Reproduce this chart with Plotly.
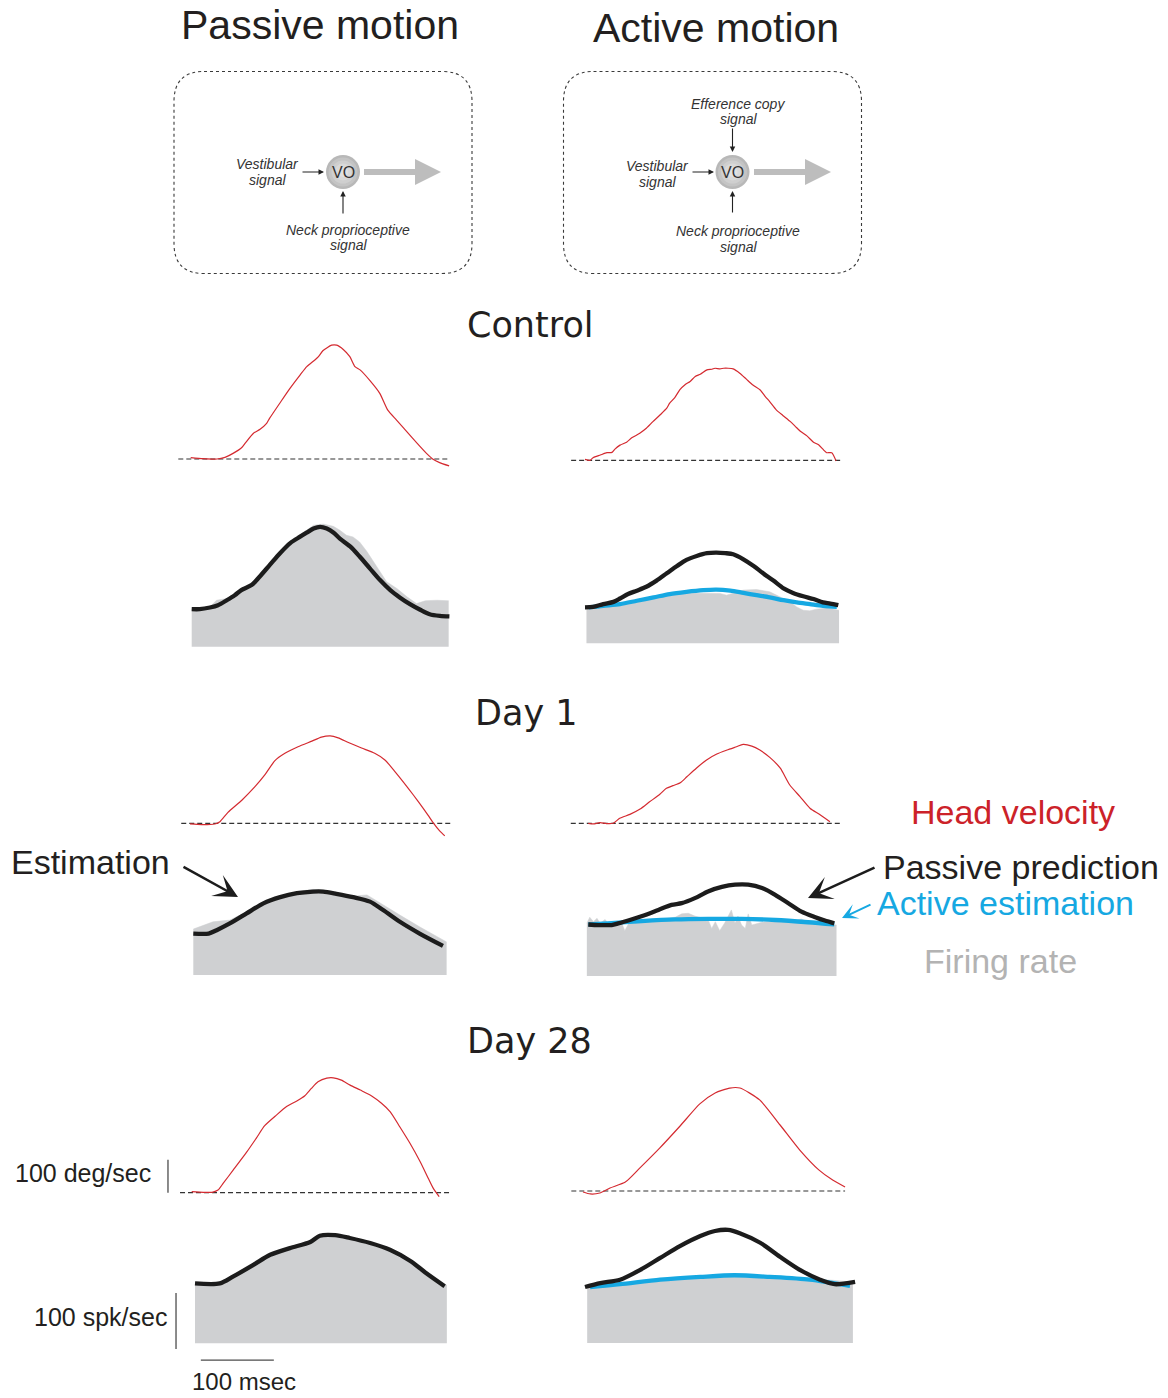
import plotly.graph_objects as go

# ---------------------------------------------------------------------------
# Recorded traces (time in ms from trace onset; head velocity in deg/s;
# firing rate in spk/s)
# ---------------------------------------------------------------------------

# Control - passive
ctrl_pas_vel_t = [0, 17, 36, 47, 58, 70, 75, 86, 95, 104, 108, 122, 136, 150, 159, 170, 175, 181, 193, 200,
                  209, 218, 225, 232, 245, 259, 270, 282, 296, 310, 323, 332, 341, 354]
ctrl_pas_vel = [4, 1, 0, 5, 17, 35, 49, 78, 90, 108, 123, 169, 214, 255, 280, 300, 310, 328, 345, 345,
                332, 310, 280, 270, 239, 199, 148, 118, 83, 48, 17, -1, -11, -21]
ctrl_pas_window = [-17, 355]
ctrl_pas_est_t = [0, 11, 25, 36, 48, 59, 68, 82, 93, 107, 121, 135, 148, 158, 167, 176, 185, 194, 203, 217,
                  230, 244, 258, 272, 285, 299, 313, 326, 340, 353]
ctrl_pas_est = [67, 67, 70, 74, 83, 92, 101, 110, 125, 146, 167, 185, 196, 204, 211, 214, 211, 204, 193, 179,
                161, 140, 119, 101, 88, 76, 66, 58, 55, 54]
ctrl_pas_fr_t = [0, 11, 25, 34, 48, 59, 68, 82, 93, 107, 121, 135, 148, 158, 167, 180, 194, 203, 212, 221,
                 230, 240, 253, 267, 281, 295, 308, 320, 336, 352]
ctrl_pas_fr = [67, 67, 71, 83, 86, 95, 102, 112, 128, 149, 170, 187, 199, 208, 217, 219, 215, 208, 199, 196,
               187, 170, 143, 116, 104, 89, 77, 82, 83, 82]

# Control - active
ctrl_act_vel_t = [0, 7, 11, 21, 30, 37, 41, 48, 57, 64, 75, 84, 93, 103, 112, 116, 123, 130, 137, 144,
                  151, 158, 167, 174, 178, 185, 190, 196, 203, 212, 221, 230, 240, 247, 253, 262, 271, 281,
                  288, 295, 304, 313, 320, 327, 331, 338, 344]
ctrl_act_vel = [3, 0, 8, 16, 23, 24, 34, 46, 55, 68, 82, 97, 117, 138, 158, 173, 190, 214, 229, 239,
                254, 261, 274, 276, 279, 277, 279, 279, 277, 264, 246, 228, 213, 193, 178, 153, 136, 118,
                103, 88, 74, 55, 47, 31, 23, 23, -2]
ctrl_act_window = [-19, 351]
ctrl_act_pred_t = [0, 11, 25, 39, 48, 59, 71, 84, 98, 112, 126, 139, 153, 167, 180, 192, 203, 217, 231, 244,
                   258, 272, 285, 299, 313, 326, 336, 347]
ctrl_act_pred = [64, 65, 70, 74, 80, 88, 94, 101, 112, 125, 138, 149, 156, 161, 162, 161, 159, 150, 138, 125,
                 112, 98, 90, 84, 79, 73, 71, 68]
ctrl_act_est_t = [5, 25, 48, 71, 94, 116, 139, 162, 180, 199, 217, 235, 253, 272, 290, 308, 326, 345]
ctrl_act_est = [64, 67, 70, 76, 82, 88, 92, 95, 96, 94, 90, 86, 82, 77, 73, 70, 67, 65]
ctrl_act_fr_t = [2, 25, 48, 71, 94, 116, 139, 171, 185, 194, 203, 217, 235, 253, 267, 281, 290, 299, 308, 317,
                 331, 348]
ctrl_act_fr = [63, 67, 71, 77, 83, 89, 90, 89, 89, 86, 89, 95, 96, 92, 83, 74, 65, 59, 58, 61, 63, 59]

# Day 1 - passive
d1_pas_vel_t = [0, 16, 34, 41, 52, 71, 89, 103, 116, 130, 148, 167, 180, 192, 203, 217, 235, 253, 267, 281,
                299, 313, 326, 333, 342, 349]
d1_pas_vel = [-2, -4, -2, 5, 33, 70, 111, 148, 189, 212, 232, 249, 261, 265, 259, 245, 228, 212, 192, 156,
              106, 65, 25, 2, -23, -38]
d1_pas_window = [-12, 358]
d1_pas_est_t = [0, 21, 32, 50, 73, 96, 119, 142, 164, 178, 196, 219, 242, 260, 283, 310, 342]
d1_pas_est = [74, 74, 80, 92, 110, 128, 139, 146, 149, 149, 145, 139, 131, 116, 95, 74, 52]
d1_pas_fr_t = [0, 14, 27, 50, 73, 96, 119, 142, 164, 178, 196, 219, 238, 256, 283, 310, 342, 347]
d1_pas_fr = [82, 89, 95, 98, 113, 131, 141, 149, 153, 151, 147, 141, 143, 128, 107, 86, 63, 59]

# Day 1 - active
d1_act_vel_t = [0, 7, 16, 25, 34, 43, 57, 71, 84, 98, 107, 116, 126, 135, 148, 162, 176, 190, 203, 212,
                224, 235, 249, 263, 276, 290, 304, 317, 331]
d1_act_vel = [0, -2, 2, -1, 0, 15, 27, 43, 65, 88, 106, 114, 123, 141, 167, 192, 210, 222, 232, 239,
              234, 222, 199, 167, 116, 81, 45, 27, 5]
d1_act_window = [-24, 346]
d1_act_pred_t = [0, 14, 32, 41, 59, 78, 96, 114, 128, 146, 164, 183, 201, 219, 238, 256, 274, 292, 311, 324, 337]
d1_act_pred = [92, 91, 91, 94, 101, 109, 118, 127, 130, 139, 151, 159, 163, 163, 157, 145, 130, 115, 105, 99, 94]
d1_act_est_t = [0, 27, 73, 119, 164, 210, 256, 301, 337]
d1_act_est = [92, 94, 98, 101, 102, 102, 100, 96, 92]
d1_act_fr_t = [-2, 2, 7, 12, 16, 23, 27, 37, 46, 50, 55, 73, 96, 119, 128, 137, 146, 164, 169, 174,
               180, 187, 196, 201, 205, 210, 215, 219, 224, 238, 256, 274, 292, 301, 320, 340]
d1_act_fr = [94, 105, 97, 103, 94, 101, 94, 91, 94, 81, 93, 96, 100, 105, 111, 112, 107, 101, 85, 97,
             81, 95, 118, 94, 107, 91, 85, 111, 91, 96, 98, 96, 102, 96, 94, 91]

# Day 28 - passive
d28_pas_vel_t = [0, 16, 29, 36, 43, 57, 75, 89, 100, 116, 130, 144, 155, 164, 173, 185, 194, 205, 217, 231,
                 246, 260, 272, 285, 299, 313, 324, 331, 339]
d28_pas_vel = [3, 1, 2, 8, 28, 69, 122, 167, 203, 235, 261, 278, 294, 316, 336, 347, 348, 341, 326, 311,
               294, 271, 245, 200, 150, 94, 44, 13, -12]
d28_pas_window = [-16, 354]
d28_pas_est_t = [0, 34, 52, 80, 103, 130, 158, 171, 192, 212, 240, 267, 295, 315, 342]
d28_pas_est = [107, 107, 119, 140, 158, 170, 181, 192, 193, 188, 179, 167, 147, 127, 102]
d28_pas_fr_t = [0, 34, 52, 80, 103, 130, 158, 171, 192, 212, 240, 267, 295, 315, 342, 345]
d28_pas_fr = [107, 107, 121, 143, 160, 172, 184, 193, 195, 190, 181, 169, 150, 130, 104, 104]

# Day 28 - active
d28_act_vel_t = [0, 10, 23, 37, 58, 78, 105, 133, 160, 181, 201, 215, 242, 270, 297, 323, 342, 359]
d28_act_vel = [-3, -9, -6, 9, 27, 70, 130, 197, 264, 297, 312, 312, 276, 200, 124, 64, 33, 12]
d28_act_window = [-16, 359]
d28_act_pred_t = [0, 21, 48, 75, 103, 130, 158, 178, 196, 212, 240, 267, 295, 322, 342, 370]
d28_act_pred = [100, 107, 113, 130, 152, 173, 191, 200, 202, 196, 179, 154, 130, 113, 105, 109]
d28_act_est_t = [7, 48, 103, 158, 205, 253, 308, 363]
d28_act_est = [100, 105, 113, 118, 121, 118, 113, 102]
d28_act_fr_t = [3, 48, 103, 158, 205, 253, 308, 330, 363, 367]
d28_act_fr = [100, 107, 113, 118, 121, 120, 114, 113, 109, 109]

# Scale bars
SCALE_VEL = 100   # deg/s
SCALE_FR = 100    # spk/s
SCALE_T = 100     # ms

# ---------------------------------------------------------------------------
# Page geometry and styling
# ---------------------------------------------------------------------------
W, H = 1168, 1398
MS_PX = 0.73      # px per ms
VEL_PX = 0.33     # px per deg/s
FR_PX = 0.56      # px per spk/s

RED = "#d42a30"
BLUE = "#16a8e2"
BLACK = "#1c1c1c"
GREY_FILL = "#cfd0d2"
TEXT = "#231f20"
SANS = "Liberation Sans, Arial, Helvetica, sans-serif"
TITLE_FONT = "DejaVu Sans, Verdana, sans-serif"

fig = go.Figure()
_axes = {"n": 0}


def panel(x0, y0, px_per_unit):
    """Create an invisible x/y axis pair whose origin (t=0, value=0) sits at page pixel (x0, y0)."""
    _axes["n"] += 1
    k = _axes["n"]
    sfx = "" if k == 1 else str(k)
    fig.update_layout(**{
        "xaxis" + sfx: dict(domain=[0, 1], range=[-x0 / MS_PX, (W - x0) / MS_PX], visible=False,
                            anchor="y" + sfx, fixedrange=True),
        "yaxis" + sfx: dict(domain=[0, 1], range=[(y0 - H) / px_per_unit, y0 / px_per_unit], visible=False,
                            anchor="x" + sfx, fixedrange=True),
    })
    return "x" + sfx, "y" + sfx


def velocity_panel(x0, y0, t, v, window):
    xa, ya = panel(x0, y0, VEL_PX)
    fig.add_trace(go.Scatter(x=window, y=[0, 0], mode="lines", xaxis=xa, yaxis=ya,
                             line=dict(color="#333333", width=1.2, dash="5px,3px"), hoverinfo="skip"))
    fig.add_trace(go.Scatter(x=t, y=v, mode="lines", xaxis=xa, yaxis=ya,
                             line=dict(color=RED, width=1.2, shape="spline", smoothing=0.6), hoverinfo="skip"))
    return xa, ya


def rate_panel(x0, y0, fr_t, fr, curves):
    xa, ya = panel(x0, y0, FR_PX)
    fig.add_trace(go.Scatter(x=fr_t, y=fr, mode="lines", fill="tozeroy", fillcolor=GREY_FILL,
                             line=dict(color=GREY_FILL, width=0.5), xaxis=xa, yaxis=ya, hoverinfo="skip"))
    for ct, cv, col in curves:
        fig.add_trace(go.Scatter(x=ct, y=cv, mode="lines", xaxis=xa, yaxis=ya,
                                 line=dict(color=col, width=4.3, shape="spline", smoothing=0.8),
                                 hoverinfo="skip"))
    return xa, ya


# Control
velocity_panel(190.7, 459.0, ctrl_pas_vel_t, ctrl_pas_vel, ctrl_pas_window)
velocity_panel(585.0, 460.3, ctrl_act_vel_t, ctrl_act_vel, ctrl_act_window)
rate_panel(191.7, 646.7, ctrl_pas_fr_t, ctrl_pas_fr, [(ctrl_pas_est_t, ctrl_pas_est, BLACK)])
rate_panel(585.0, 643.3, ctrl_act_fr_t, ctrl_act_fr,
           [(ctrl_act_est_t, ctrl_act_est, BLUE), (ctrl_act_pred_t, ctrl_act_pred, BLACK)])

# Day 1
velocity_panel(190.0, 823.3, d1_pas_vel_t, d1_pas_vel, d1_pas_window)
velocity_panel(588.3, 823.3, d1_act_vel_t, d1_act_vel, d1_act_window)
rate_panel(193.3, 975.0, d1_pas_fr_t, d1_pas_fr, [(d1_pas_est_t, d1_pas_est, BLACK)])
rate_panel(588.3, 976.0, d1_act_fr_t, d1_act_fr,
           [(d1_act_est_t, d1_act_est, BLUE), (d1_act_pred_t, d1_act_pred, BLACK)])

# Day 28
vx, vy = velocity_panel(191.7, 1192.7, d28_pas_vel_t, d28_pas_vel, d28_pas_window)
velocity_panel(583.0, 1191.0, d28_act_vel_t, d28_act_vel, d28_act_window)
fx, fy = rate_panel(195.0, 1343.3, d28_pas_fr_t, d28_pas_fr, [(d28_pas_est_t, d28_pas_est, BLACK)])
rate_panel(585.0, 1343.0, d28_act_fr_t, d28_act_fr,
           [(d28_act_est_t, d28_act_est, BLUE), (d28_act_pred_t, d28_act_pred, BLACK)])

# Scale bars, drawn in the units of the Day 28 passive panels
bar = dict(color="#4d4d4d", width=1.3)
fig.add_trace(go.Scatter(x=[-32.5, -32.5], y=[0, SCALE_VEL], mode="lines", xaxis=vx, yaxis=vy,
                         line=bar, hoverinfo="skip"))
fig.add_trace(go.Scatter(x=[-26, -26], y=[-10, -10 + SCALE_FR], mode="lines", xaxis=fx, yaxis=fy,
                         line=bar, hoverinfo="skip"))
fig.add_trace(go.Scatter(x=[8, 8 + SCALE_T], y=[-30, -30], mode="lines", xaxis=fx, yaxis=fy,
                         line=bar, hoverinfo="skip"))

# ---------------------------------------------------------------------------
# Text and schematic (page pixel coordinates converted to paper)
# ---------------------------------------------------------------------------


def px(x):
    return x / W


def py(y):
    return 1 - y / H


annotations = []


def label(x, y, text, size, color=TEXT, family=SANS, xanchor="center", yanchor="middle", italic=False):
    if italic:
        text = "<i>" + text + "</i>"
    annotations.append(dict(x=px(x), y=py(y), xref="paper", yref="paper", text=text, showarrow=False,
                            xanchor=xanchor, yanchor=yanchor,
                            font=dict(size=size, color=color, family=family)))


def arrow(tail, tip, color, width, size, head=3):
    annotations.append(dict(x=px(tip[0]), y=py(tip[1]), xref="paper", yref="paper", text="",
                            showarrow=True, ax=tail[0] - tip[0], ay=tail[1] - tip[1],
                            axref="pixel", ayref="pixel", arrowhead=head, arrowsize=size,
                            arrowwidth=width, arrowcolor=color, standoff=0, startstandoff=0))


label(320, 25, "Passive motion", 41)
label(716, 28, "Active motion", 41)
label(530, 325, "Control", 35, family=TITLE_FONT)
label(526, 713, "Day 1", 35, family=TITLE_FONT)
label(529, 1041, "Day 28", 35, family=TITLE_FONT)

label(1013, 812, "Head velocity", 34, color="#cc2229")
label(1021, 867, "Passive prediction", 34)
label(1005, 903, "Active estimation", 34, color=BLUE)
label(1000, 961, "Firing rate", 34, color="#b3b3b3")
label(90, 862, "Estimation", 34)

label(153, 1173, "100 deg/sec", 25, xanchor="right")
label(169, 1317, "100 spk/sec", 25, xanchor="right")
label(244, 1397, "100 msec", 24, yanchor="bottom")

arrow((182, 866), (238, 897), BLACK, 2.5, 1.6)
arrow((876, 867), (808, 898), BLACK, 2.5, 1.6)
arrow((872, 904), (842, 918), BLUE, 2.0, 1.3)

shapes = []


def rounded_box(x0, y0, x1, y1, r):
    pts = [
        ("M", x0 + r, y0), ("L", x1 - r, y0), ("Q", x1, y0, x1, y0 + r), ("L", x1, y1 - r),
        ("Q", x1, y1, x1 - r, y1), ("L", x0 + r, y1), ("Q", x0, y1, x0, y1 - r), ("L", x0, y0 + r),
        ("Q", x0, y0, x0 + r, y0),
    ]
    path = ""
    for p in pts:
        cmd, coords = p[0], p[1:]
        path += cmd + " " + " ".join(
            f"{px(coords[i]):.5f},{py(coords[i + 1]):.5f}" for i in range(0, len(coords), 2)) + " "
    path += "Z"
    shapes.append(dict(type="path", path=path, xref="paper", yref="paper",
                       line=dict(color="#3a3a3a", width=1.1, dash="dot")))


def node(cx, cy):
    for r, c in [(17, "#b8b8b8"), (14.5, "#c4c4c4"), (11.5, "#cfcfcf"), (8.5, "#d9d9d9"), (5, "#e1e1e1")]:
        shapes.append(dict(type="circle", xref="paper", yref="paper",
                           x0=px(cx - r), x1=px(cx + r), y0=py(cy + r), y1=py(cy - r),
                           fillcolor=c, line=dict(width=0)))
    label(cx, cy + 1, "VO", 16, color="#333333")


def output_arrow(x0, x1, y):
    shapes.append(dict(type="line", xref="paper", yref="paper", x0=px(x0), x1=px(x1 - 24),
                       y0=py(y), y1=py(y), line=dict(color="#bdbdbd", width=6)))
    path = (f"M {px(x1 - 26):.5f},{py(y - 13):.5f} L {px(x1):.5f},{py(y):.5f} "
            f"L {px(x1 - 26):.5f},{py(y + 13):.5f} Z")
    shapes.append(dict(type="path", path=path, xref="paper", yref="paper",
                       fillcolor="#bdbdbd", line=dict(width=0)))


# Passive motion schematic
rounded_box(174, 71.5, 472, 273.5, 30)
node(343, 172)
output_arrow(364, 441, 172)
label(267.5, 164, "Vestibular", 14, color="#333333", italic=True)
label(267.5, 180, "signal", 14, color="#333333", italic=True)
label(348.3, 229.5, "Neck proprioceptive", 14, color="#333333", italic=True)
label(348.3, 245, "signal", 14, color="#333333", italic=True)
arrow((301, 172), (324, 172), "#222222", 1.1, 1.0, head=2)
arrow((343, 215), (343, 191), "#222222", 1.1, 1.0, head=2)

# Active motion schematic
rounded_box(563.5, 71.5, 861.5, 273.5, 30)
node(732.5, 172)
output_arrow(754, 831, 172)
label(738.3, 104, "Efference copy", 14, color="#333333", italic=True)
label(738.3, 119.5, "signal", 14, color="#333333", italic=True)
label(657.5, 165.5, "Vestibular", 14, color="#333333", italic=True)
label(657.5, 181.5, "signal", 14, color="#333333", italic=True)
label(738.3, 230.5, "Neck proprioceptive", 14, color="#333333", italic=True)
label(738.3, 246.5, "signal", 14, color="#333333", italic=True)
arrow((691, 172), (714, 172), "#222222", 1.1, 1.0, head=2)
arrow((732.5, 127), (732.5, 152), "#222222", 1.1, 1.0, head=2)
arrow((732.5, 214), (732.5, 191), "#222222", 1.1, 1.0, head=2)

fig.update_layout(
    width=W, height=H, autosize=False,
    margin=dict(l=0, r=0, t=0, b=0, pad=0),
    paper_bgcolor="white", plot_bgcolor="rgba(0,0,0,0)",
    showlegend=False,
    annotations=annotations,
    shapes=shapes,
)

fig.write_html("out.html", config={"displayModeBar": False, "staticPlot": True})
